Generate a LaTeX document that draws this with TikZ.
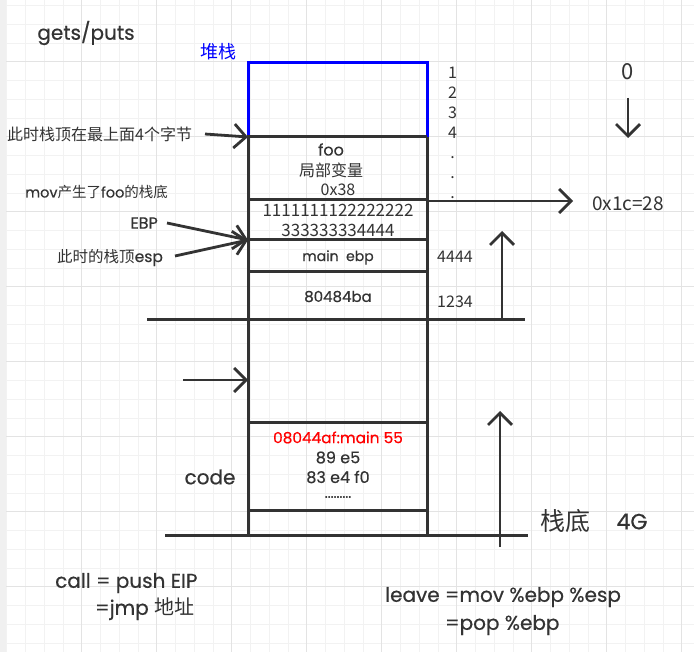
\documentclass[tikz,border=0pt]{standalone}
\usepackage{fontspec}
\setmainfont{Noto Sans CJK SC}
\newfontfamily\comic[FakeBold=0.5]{Poppins}
\newfontfamily\cjk{Noto Sans CJK SC}
\usetikzlibrary{arrows.meta}
\definecolor{ink}{HTML}{333333}
\definecolor{gridminor}{HTML}{F2F2F2}
\definecolor{gridmajor}{HTML}{E3E3E3}
\definecolor{stackblue}{HTML}{0000FF}
\begin{document}
\begin{tikzpicture}[x=1pt,y=-1pt,
  cm/.style={font=\comic\fontsize{#1}{#1}\selectfont, text=ink, inner sep=0pt},
  cj/.style={font=\cjk\fontsize{#1}{#1}\selectfont, text=ink, inner sep=0pt},
  wall/.style={draw=ink, line width=3pt},
  bluewall/.style={draw=stackblue, line width=3pt},
  arr/.style={draw=ink, line width=2.8pt, -{Straight Barb[length=12pt,width=24pt]}}]
% background and grid
\useasboundingbox (0,0) rectangle (694,652);
\fill[white] (0,0) rectangle (694,652);
\fill[gray!12] (0,0) rectangle (6,652);
\foreach \i in {0,...,36} {
  \draw[gridminor, line width=0.8pt] ({6.7+18.75*\i},0) -- ({6.7+18.75*\i},652);
}
\foreach \i in {0,...,34} {
  \draw[gridminor, line width=0.8pt] (6,{5.45+18.75*\i}) -- (694,{5.45+18.75*\i});
}
\foreach \i in {0,...,8} {
  \draw[gridmajor, line width=1pt] ({81.7+75*\i},0) -- ({81.7+75*\i},652);
}
\foreach \i in {0,...,7} {
  \draw[gridmajor, line width=1pt] (6,{61.7+75*\i}) -- (694,{61.7+75*\i});
}
% stack coordinates
\coordinate (tl) at (248,63);
\coordinate (tr) at (427,63);
\coordinate (ml) at (248,137);
\coordinate (mr) at (427,137);
\coordinate (bl) at (248,535);
\coordinate (br) at (427,535);
% blue top part
\draw[bluewall] (ml) -- (tl) -- (tr) -- (mr);
% dark part
\draw[wall] (mr) -- (ml) -- (bl);
\draw[wall] (mr) -- (br);
\draw[wall] (248,200) -- (427,200);
\draw[wall] (248,240) -- (427,240);
\draw[wall] (248,272) -- (427,272);
\coordinate (l320) at (147,320);
\coordinate (r320) at (525,320);
\draw[wall] (l320) -- (r320);
\draw[wall] (248,423) -- (427,423);
\draw[wall] (248,510) -- (427,510);
\coordinate (l535) at (165,535);
\coordinate (r535) at (528,535);
\draw[wall] (l535) -- (r535);
% texts
\node[cm=20] (gets) at (86,33) {gets/puts};
\node[cj=18, text=stackblue] (heap) at (218,52) {堆栈};
\node[cj=16, anchor=west] (topnote) at (7,134) {此时栈顶在最上面4个字节};
\node[cj=14.5, anchor=west] (movnote) at (25,192) {{\comic mov}产生了{\comic foo}的栈底};
\node[cm=16, anchor=east] (ebp) at (158,223) {EBP};
\node[cj=15.5, anchor=west] (espnote) at (57,257.5) {此时的栈顶{\comic esp}};
\node[cm=16] (foo) at (331,149.5) {foo};
\node[cj=16] (local) at (331,170) {局部变量};
\node[cj=16] (hex38) at (338,189.5) {0x38};
\node[cj=17] (row1) at (338,210.5) {1111111122222222};
\node[cj=17] (row2) at (338,230) {333333334444};
\node[cm=14] (mainebp) at (338,257.5) {main\ \ ebp};
\node[cm=15] (ret) at (338,296.5) {80484ba};
\node[cm=15.3, text=red] (mainaddr) at (338,437.5) {08044af:main 55};
\node[cm=16] (c1) at (338,457.5) {89 e5};
\node[cm=16] (c2) at (338,477) {83 e4 f0};
\node[cm=14] (c3) at (338,497) {.........};
\node[cm=20] (code) at (210,477) {code};
\node[font=\cjk\fontsize{16}{20.1}\selectfont, text=ink, inner sep=0pt, align=center, anchor=base] (nums) at (452.5,199) {1\\2\\3\\4\\.\\.\\.};
\node[cj=16] (v4444) at (455,257) {4444};
\node[cj=16] (v1234) at (455,301.5) {1234};
\node[cj=22] (zero) at (628,72) {0};
\node[cj=19] (off) at (628,203.5) {0x1c=28};
\node[cj=25] (bottom) at (565.5,521.5) {栈底};
\node[cm=22] (fourg) at (632,521.5) {4G};
\node[cm=20, anchor=west] (call1) at (55,583) {call = push EIP};
\node[cj=20, anchor=west] (call2) at (95,609) {{\comic =jmp }地址};
\node[cm=20, anchor=west] (leave1) at (385,597) {leave =mov \%ebp \%esp};
\node[cm=20, anchor=west] (leave2) at (445,625) {=pop \%ebp};
% arrows
\coordinate (a1s) at (205,134);
\coordinate (a1e) at (248,137);
\draw[arr] (a1s) -- (a1e);
\coordinate (a2s) at (167,223);
\coordinate (a2e) at (248,240);
\draw[arr] (a2s) -- (a2e);
\coordinate (a3s) at (175,256);
\draw[arr] (a3s) -- (a2e);
\coordinate (a4s) at (183,380);
\coordinate (a4e) at (248,380);
\draw[arr] (a4s) -- (a4e);
\coordinate (a5s) at (427,201);
\coordinate (a5e) at (573,201);
\draw[arr] (a5s) -- (a5e);
\coordinate (a6s) at (502,320);
\coordinate (a6e) at (502,231);
\draw[arr] (a6s) -- (a6e);
\coordinate (a7s) at (500,547);
\coordinate (a7e) at (500,411);
\draw[arr] (a7s) -- (a7e);
\coordinate (a8s) at (628,98);
\coordinate (a8e) at (628,138);
\draw[arr] (a8s) -- (a8e);
\end{tikzpicture}
\end{document}
